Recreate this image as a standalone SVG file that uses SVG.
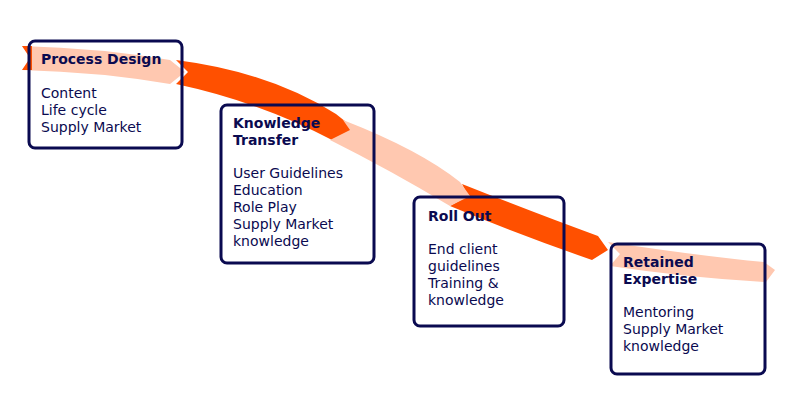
<svg xmlns="http://www.w3.org/2000/svg" width="800" height="400" viewBox="0 0 800 400">
<style>
.o{fill:#ff5000}.p{fill:#ffc8b0}
.box{fill:none;stroke:#0a0a50;stroke-width:3}
text{font-family:"DejaVu Sans",Verdana,sans-serif;font-size:14px;fill:#0a0a50}
.t{font-weight:bold}
</style>
<rect width="800" height="400" fill="#fff"/>
<g id="connectors">
<path class="o" d="M176,60 Q270,72 336,114 L356,130 L332,140 Q260,102 176,84 L188,72 Z"/>
<path class="o" d="M462,184 Q540,215 598,236 L608,250 L592,260 Q520,235 450,206 L468,196 Z"/>
<path class="p" d="M22,46 Q100,48 170,60 L185,72 L170,84 Q100,72 22,70 L32,58 Z"/>
<path class="p" d="M343,120 Q420,150 460,182 L470,196 L450,206 Q390,170 330,140 L350,130 Z"/>
<path class="p" d="M608,242 Q700,256 764,262 L775,270 L766,282 Q690,278 610,266 L620,254 Z"/>
<path class="o" d="M22,46 L32,46 L32,70 L22,70 L30,58 Z"/>
</g>
<g id="n1"><rect class="box" x="29" y="41" width="153" height="107" rx="6"/>
<text x="41" y="64" class="t">Process Design</text>
<text x="41" y="98">Content</text><text x="41" y="115">Life cycle</text><text x="41" y="132">Supply Market</text></g>
<g id="n2"><rect class="box" x="221" y="105" width="153" height="158" rx="6"/>
<text x="233" y="128" class="t">Knowledge</text><text x="233" y="145" class="t">Transfer</text>
<text x="233" y="178">User Guidelines</text><text x="233" y="195">Education</text><text x="233" y="212">Role Play</text><text x="233" y="229">Supply Market</text><text x="233" y="246">knowledge</text></g>
<g id="n3"><rect class="box" x="414" y="197" width="150" height="129" rx="6"/>
<text x="428" y="221" class="t">Roll Out</text>
<text x="428" y="254">End client</text><text x="428" y="271">guidelines</text><text x="428" y="288">Training &amp;</text><text x="428" y="305">knowledge</text></g>
<g id="n4"><rect class="box" x="611" y="244" width="154" height="130" rx="6"/>
<text x="623" y="267" class="t">Retained</text><text x="623" y="284" class="t">Expertise</text>
<text x="623" y="317">Mentoring</text><text x="623" y="334">Supply Market</text><text x="623" y="351">knowledge</text></g>
</svg>
